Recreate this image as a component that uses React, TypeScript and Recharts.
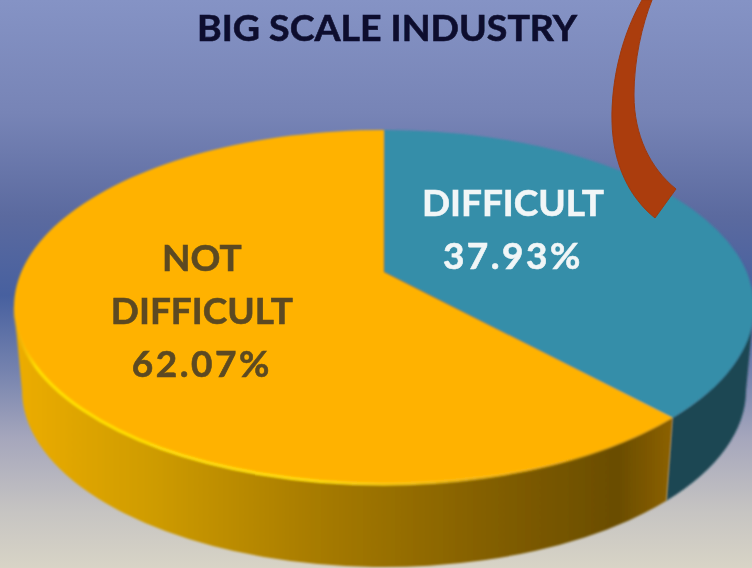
import React from "react";
import { PieChart, Pie, Cell } from "recharts";

const categories = ["DIFFICULT", "NOT DIFFICULT"];
const shares = [37.93, 62.07];
const chartTitle = "BIG SCALE INDUSTRY";

const topColors = ["#348EA9", "#FFB204"];
const wallFills = ["#1A4653", "url(#wallYellow)"];
const labelColors = ["#F1F6F7", "#5B4A22"];
const labelFractions = [0.375, 0.53];
const labelNudgeY = [-20, 2];

const tableData = categories.map((name, i) => ({ name, value: shares[i] }));

const W = 752;
const H = 568;
const APEX_X = 384;
const APEX_Y = 272;
const RX = 370;
const RY = 177;
const RIM_DY = 35;
const BOTTOM_RX = 362;
const BOTTOM_DY = 118;
const RAD = Math.PI / 180;

// Screen parameter of the rim point reached by a pie angle, casting a ray from the off-centre apex.
function rimParam(angle: number, ry: number) {
  const dx = Math.cos(angle * RAD);
  const dy = -Math.sin(angle * RAD);
  const oy = -RIM_DY / ry;
  const b = dy * oy;
  const a = dx * dx + dy * dy;
  const c = oy * oy - 1;
  const s = (-b + Math.sqrt(b * b - a * c)) / a;
  return Math.atan2(oy + s * dy, s * dx) / RAD;
}

function ell(t: number, cx: number, cy: number, rx: number, ry: number) {
  return [cx + rx * Math.cos(t * RAD), cy + ry * Math.sin(t * RAD)];
}

function SliceShape(props: any) {
  const { cx, cy, outerRadius, startAngle, endAngle, fill, index } = props;
  const rx = outerRadius;
  const ry = RY;
  const ey = cy + RIM_DY;
  const t1 = rimParam(startAngle, ry);
  let t2 = rimParam(endAngle, ry);
  while (t2 < t1) t2 += 360;
  const [x1, y1] = ell(t1, cx, ey, rx, ry);
  const [x2, y2] = ell(t2, cx, ey, rx, ry);
  const large = t2 - t1 > 180 ? 1 : 0;
  const top = `M${cx},${cy}L${x1},${y1}A${rx},${ry} 0 ${large} 1 ${x2},${y2}Z`;

  const windows = [[0, 180], [360, 540]];
  const vis = windows
    .map(([a, b]) => [Math.max(a, t1), Math.min(b, t2)])
    .filter(([a, b]) => b > a)[0];
  let wall = "";
  let rim = "";
  if (vis) {
    const by = cy + BOTTOM_DY;
    const [ax, ay] = ell(vis[0], cx, ey, rx, ry);
    const [bx, byy] = ell(vis[1], cx, ey, rx, ry);
    const [cx2, cy2] = ell(vis[1], cx, by, BOTTOM_RX, ry);
    const [dx, dy] = ell(vis[0], cx, by, BOTTOM_RX, ry);
    wall = `M${ax},${ay}A${rx},${ry} 0 0 1 ${bx},${byy}L${cx2},${cy2}A${BOTTOM_RX},${ry} 0 0 0 ${dx},${dy}Z`;
    rim = `M${ax},${ay}A${rx},${ry} 0 0 1 ${bx},${byy}`;
  }
  return (
    <g filter="url(#soft)">
      {wall && <path d={wall} fill={wallFills[index]} />}
      <path d={top} fill={fill} />
      {rim && index === 1 && <path d={rim} fill="none" stroke="url(#rimGlow)" strokeWidth={3} />}
    </g>
  );
}

function SliceLabel(props: any) {
  const { cx, cy, outerRadius, midAngle, index, name, value } = props;
  const f = labelFractions[index];
  const x = cx + f * outerRadius * Math.cos(midAngle * RAD);
  const y = cy - f * RY * Math.sin(midAngle * RAD) + labelNudgeY[index];
  const pct = `${Number(value).toFixed(2)}%`;
  const lines = [...String(name).split(" "), pct];
  const lh = 53;
  const startY = y - ((lines.length - 1) * lh) / 2;
  return (
    <text
      x={x}
      y={startY}
      textAnchor="middle"
      dominantBaseline="central"
      fill={labelColors[index]}
      stroke={labelColors[index]}
      strokeWidth={0.6}
      fontFamily="Lato, 'Open Sans', sans-serif"
      fontWeight={700}
      fontSize={37}
      filter="url(#softText)"
    >
      {lines.map((l, i) => (
        <tspan key={l} x={x} y={startY + i * lh} letterSpacing={l === pct ? 2.5 : 0}>
          {l}
        </tspan>
      ))}
    </text>
  );
}

export default function App() {
  return (
    <div
      style={{
        position: "absolute",
        left: 0,
        top: 0,
        width: W,
        height: H,
        overflow: "hidden",
        background:
          "linear-gradient(180deg,#8593C5 0%,#7784B6 20%,#5B6A9F 38%,#47609F 52%,#7482AE 65%,#A5A6BC 77%,#C6C4C2 90%,#D8D4C6 100%)",
      }}
    >
      <PieChart width={W} height={H} margin={{ top: 0, right: 0, bottom: 0, left: 0 }}>
        <defs>
          <linearGradient id="wallYellow" gradientUnits="userSpaceOnUse" x1={20} y1={0} x2={670} y2={0}>
            <stop offset="0" stopColor="#EBAC00" />
            <stop offset="0.2" stopColor="#CF9C04" />
            <stop offset="0.45" stopColor="#A87C02" />
            <stop offset="0.75" stopColor="#7F5C00" />
            <stop offset="0.92" stopColor="#6A4D00" />
            <stop offset="1" stopColor="#8B6000" />
          </linearGradient>
          <linearGradient id="rimGlow" gradientUnits="userSpaceOnUse" x1={10} y1={0} x2={672} y2={0}>
            <stop offset="0" stopColor="#FFB204" stopOpacity={0} />
            <stop offset="0.04" stopColor="#FFDF00" />
            <stop offset="0.45" stopColor="#FFDC10" />
            <stop offset="0.7" stopColor="#FFC820" stopOpacity={0.6} />
            <stop offset="1" stopColor="#FFB204" stopOpacity={0} />
          </linearGradient>
          <filter id="soft" x="-5%" y="-5%" width="110%" height="110%">
            <feGaussianBlur stdDeviation={1} />
          </filter>
          <filter id="softText" x="-5%" y="-5%" width="110%" height="110%">
            <feGaussianBlur stdDeviation={0.6} />
          </filter>
        </defs>
        <Pie
          data={tableData}
          dataKey="value"
          nameKey="name"
          cx={APEX_X}
          cy={APEX_Y}
          innerRadius={0}
          outerRadius={RX}
          startAngle={90}
          endAngle={-270}
          stroke="none"
          isAnimationActive={false}
          shape={SliceShape}
          label={SliceLabel}
          labelLine={false}
        >
          {tableData.map((d, i) => (
            <Cell key={d.name} fill={topColors[i]} />
          ))}
        </Pie>
      </PieChart>
      <svg width={W} height={H} style={{ position: "absolute", left: 0, top: 0, pointerEvents: "none" }}>
        <defs>
          <filter id="softTop" x="-5%" y="-5%" width="110%" height="110%">
            <feGaussianBlur stdDeviation={0.6} />
          </filter>
        </defs>
        <path
          d="M642 0C622 35 611 80 612 122C613 165 630 198 655 218L676 189C650 168 634 135 634 95C634 60 642 25 652 0Z"
          fill="#AB3C0E"
          stroke="#9E3A12"
          strokeWidth={1}
          filter="url(#softTop)"
        />
        <text
          x={387}
          y={27}
          textAnchor="middle"
          dominantBaseline="central"
          fill="#0C0F2E"
          stroke="#0C0F2E"
          strokeWidth={0.6}
          fontFamily="Lato, 'Open Sans', sans-serif"
          fontWeight={700}
          fontSize={36}
          textLength={380}
          lengthAdjust="spacingAndGlyphs"
          filter="url(#softTop)"
        >
          {chartTitle}
        </text>
      </svg>
    </div>
  );
}
